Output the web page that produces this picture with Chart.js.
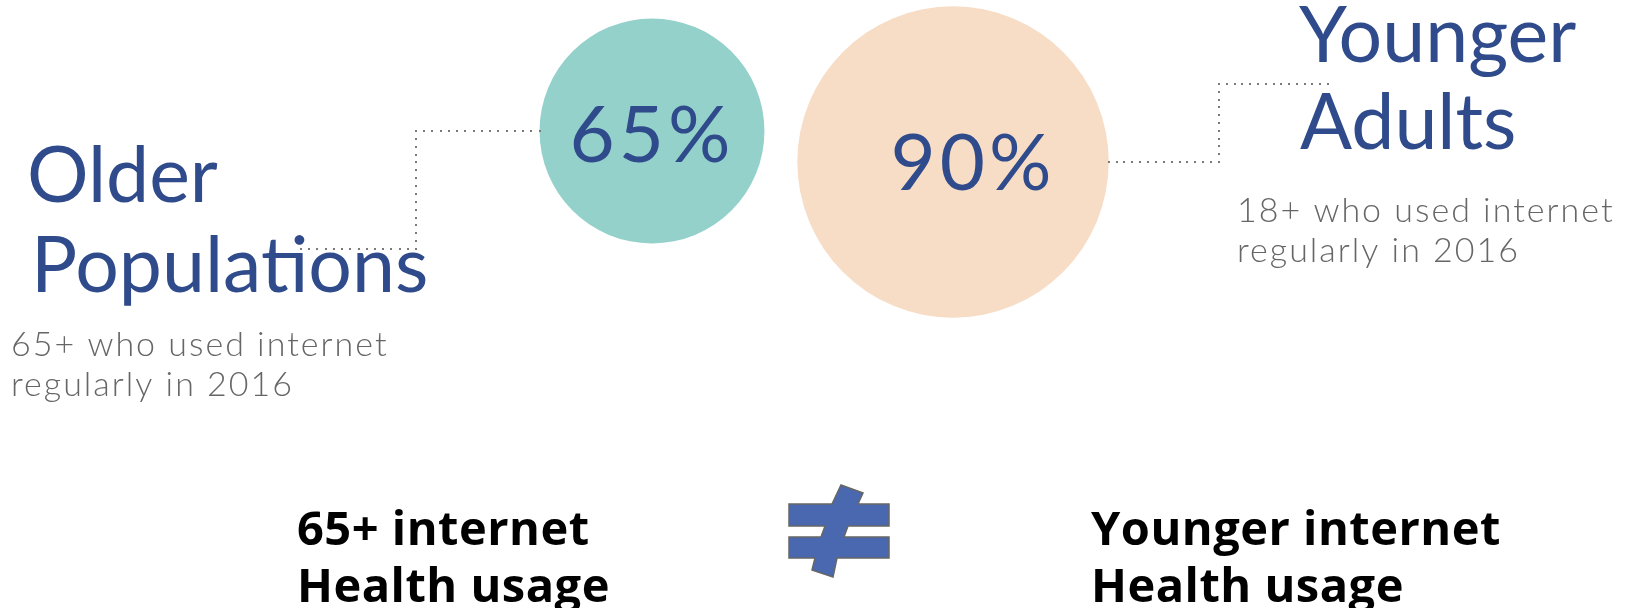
<!DOCTYPE html>
<html>
<head>
<meta charset="utf-8">
<script src="https://cdn.jsdelivr.net/npm/chart.js@4.4.1/dist/chart.umd.min.js"></script>
<style>
  html, body { margin: 0; padding: 0; background: #fff; }
  #wrap { position: relative; width: 1636px; height: 608px; }
</style>
</head>
<body>
<div id="wrap"><canvas id="chart"></canvas></div>
<script>
// share of each group using the internet regularly in 2016
const groups = ['Older Populations', 'Younger Adults'];
const shares = [65, 90];
const groupTitles = [['Older', 'Populations'], ['Younger', 'Adults']];
const groupNotes = [
  ['65+ who used internet', 'regularly in 2016'],
  ['18+ who used internet', 'regularly in 2016']
];
const compareLeft = ['65+ internet', 'Health usage'];
const compareRight = ['Younger internet', 'Health usage'];

const BLUE = '#2f4b8b';
const GREY = '#666666';
const DOTS = '#7a7a7a';
const RADIUS_PER_PCT = 1.73;

function dottedPath(ctx, pts) {
  ctx.save();
  ctx.fillStyle = DOTS;
  for (let i = 0; i < pts.length - 1; i++) {
    const [x1, y1] = pts[i], [x2, y2] = pts[i + 1];
    const len = Math.hypot(x2 - x1, y2 - y1);
    const n = Math.round(len / 8);
    for (let k = 0; k <= n; k++) {
      const t = n ? k / n : 0;
      ctx.fillRect(Math.round(x1 + (x2 - x1) * t) - 1, Math.round(y1 + (y2 - y1) * t) - 1, 2, 2);
    }
  }
  ctx.restore();
}

function lines(ctx, arr, x, y, step) {
  arr.forEach((t, i) => ctx.fillText(t, x, y + i * step));
}

const infoPlugin = {
  id: 'info',
  afterDatasetsDraw(chart) {
    const ctx = chart.ctx;
    const pts = chart.getDatasetMeta(0).data;
    const [a, b] = pts;
    const ra = a.options.radius, rb = b.options.radius;

    // percentages inside the circles
    ctx.save();
    ctx.fillStyle = BLUE;
    ctx.textAlign = 'center';
    ctx.textBaseline = 'alphabetic';
    ctx.font = '400 78px Lato';
    ctx.letterSpacing = '4px';
    ctx.fillText(shares[0] + '%', a.x + 0, a.y + 31);
    ctx.fillText(shares[1] + '%', b.x + 20, b.y + 28);

    // group titles
    ctx.textAlign = 'left';
    ctx.font = '400 77px Lato';
    ctx.letterSpacing = '0px';
    ctx.fillText(groupTitles[0][0], 27, 202);
    ctx.fillText(groupTitles[0][1], 31, 292);
    ctx.fillText(groupTitles[1][0], 1299, 62);
    ctx.fillText(groupTitles[1][1], 1300, 149);

    // notes under titles
    ctx.fillStyle = GREY;
    ctx.font = '300 34px Lato';
    ctx.letterSpacing = '2px';
    lines(ctx, groupNotes[0], 11, 356, 40);
    lines(ctx, groupNotes[1], 1237, 222, 40);

    // comparison at the bottom
    ctx.fillStyle = '#000';
    ctx.font = '700 47px "Open Sans"';
    ctx.letterSpacing = '0.5px';
    lines(ctx, compareLeft, 297, 545, 57);
    lines(ctx, compareRight, 1091, 545, 57);
    ctx.restore();

    // dotted connectors from titles to circles
    dottedPath(ctx, [[301, 249], [416, 249], [416, 131], [a.x - ra, 131]]);
    dottedPath(ctx, [[b.x + rb, b.y], [1219, b.y], [1219, 84], [1328, 84]]);

    // not-equal sign
    ctx.save();
    ctx.fillStyle = '#4a68af';
    ctx.strokeStyle = '#666';
    ctx.lineWidth = 1.5;
    ctx.beginPath();
    ctx.moveTo(841, 485); ctx.lineTo(863, 493); ctx.lineTo(858, 504);
    ctx.lineTo(889, 504); ctx.lineTo(889, 526); ctx.lineTo(848, 526);
    ctx.lineTo(844, 537); ctx.lineTo(889, 537); ctx.lineTo(889, 558);
    ctx.lineTo(837, 558); ctx.lineTo(833, 577); ctx.lineTo(812, 570);
    ctx.lineTo(815, 558); ctx.lineTo(789, 558); ctx.lineTo(789, 537);
    ctx.lineTo(821, 537); ctx.lineTo(825, 526); ctx.lineTo(789, 526);
    ctx.lineTo(789, 504); ctx.lineTo(832, 504); ctx.closePath();
    ctx.fill();
    ctx.stroke();
    ctx.restore();
  }
};

new Chart(document.getElementById('chart'), {
  type: 'bubble',
  data: {
    datasets: [{
      label: 'Used internet regularly (%)',
      data: shares.map((v, i) => ({ x: i, y: v, r: v * RADIUS_PER_PCT })),
      backgroundColor: ['#93d1ca', '#f7dcc6'],
      borderWidth: 0,
      hoverBorderWidth: 0,
      clip: false
    }]
  },
  options: {
    responsive: true,
    maintainAspectRatio: false,
    animation: false,
    layout: { padding: 0, autoPadding: false },
    plugins: { legend: { display: false }, tooltip: { enabled: false } },
    scales: {
      x: { type: 'linear', display: false, min: -2.166, max: 3.269 },
      y: { type: 'linear', display: false, reverse: true, min: -40.65, max: 449.7 }
    }
  },
  plugins: [infoPlugin]
});
</script>
</body>
</html>
